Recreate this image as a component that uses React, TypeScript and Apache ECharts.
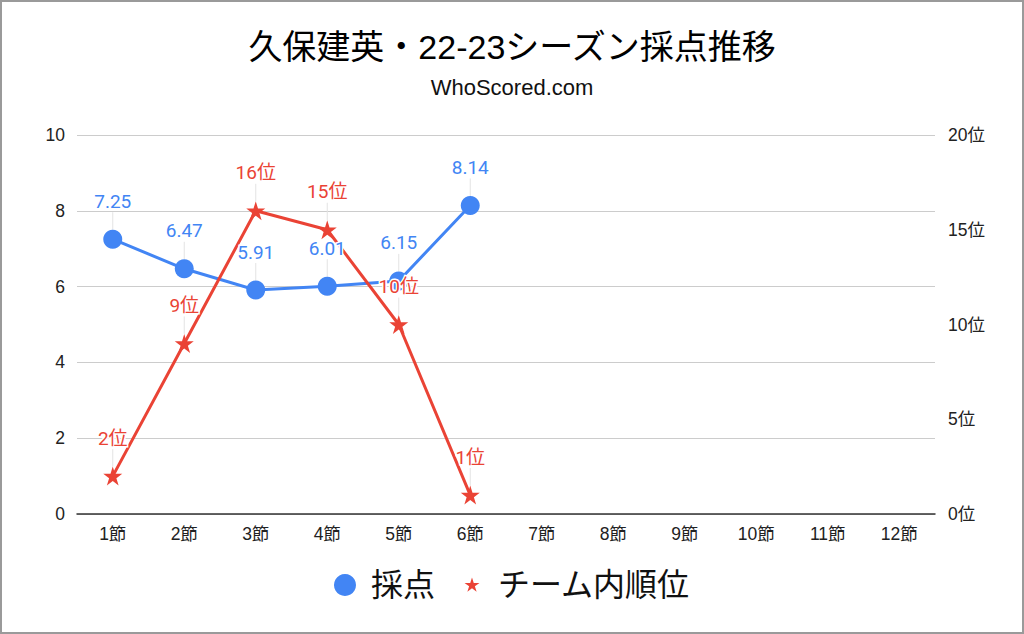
import React, { useEffect, useRef } from "react";
import * as echarts from "echarts";

const TITLE = "久保建英・22-23シーズン採点推移";
const SUBTITLE = "WhoScored.com";
const categories = ["1節", "2節", "3節", "4節", "5節", "6節", "7節", "8節", "9節", "10節", "11節", "12節"];
const scores = [7.25, 6.47, 5.91, 6.01, 6.15, 8.14];
const ranks = [2, 9, 16, 15, 10, 1];
const SCORE_NAME = "採点";
const RANK_NAME = "チーム内順位";

const BLUE = "#4285F4";
const RED = "#EA4335";
const FONT = "'Liberation Sans', 'Noto Sans CJK JP', sans-serif";
const LABEL_FONT = "Roboto, 'Noto Sans CJK JP', sans-serif";
const STAR_D = "M50 0L61.2 34.5L97.6 34.5L68.2 55.9L79.4 90.5L50 69.1L20.6 90.5L31.8 55.9L2.4 34.5L38.8 34.5Z";
const STAR = "path://" + STAR_D;
const LEGEND_STAR = "path://M-20 -22M120 118M" + STAR_D.slice(1);

export default function App() {
  const ref = useRef<HTMLDivElement>(null);
  useEffect(() => {
    document.body.style.margin = "0";
    const chart = echarts.init(ref.current!, undefined, { renderer: "svg" });
    chart.setOption({
      animation: false,
      backgroundColor: "#fff",
      textStyle: { fontFamily: FONT },
      title: {
        text: TITLE,
        subtext: SUBTITLE,
        left: "center",
        top: 23,
        itemGap: 13,
        textStyle: { fontSize: 34, fontWeight: "normal", color: "#000", fontFamily: FONT },
        subtextStyle: { fontSize: 22, color: "#111", fontFamily: FONT },
      },
      legend: {
        bottom: 26,
        left: "center",
        itemWidth: 22,
        itemHeight: 22,
        itemGap: 26,
        textStyle: { fontSize: 32, color: "#111", fontFamily: FONT, padding: [0, 0, 0, 10] },
        data: [
          { name: SCORE_NAME, icon: "circle" },
          { name: RANK_NAME, icon: LEGEND_STAR },
        ],
      },
      grid: { left: 75, right: 87, top: 133, bottom: 118, containLabel: false },
      xAxis: {
        type: "category",
        data: categories,
        boundaryGap: true,
        axisLine: { lineStyle: { color: "#333", width: 1.5 } },
        axisTick: { show: false },
        axisLabel: { fontSize: 17.5, color: "#222", margin: 11, fontFamily: FONT },
      },
      yAxis: [
        {
          type: "value",
          min: 0,
          max: 10,
          interval: 2,
          axisLine: { show: false },
          axisTick: { show: false },
          axisLabel: { fontSize: 17.5, color: "#222", margin: 12, fontFamily: FONT },
          splitLine: { lineStyle: { color: "#cccccc", width: 1 } },
        },
        {
          type: "value",
          min: 0,
          max: 20,
          interval: 5,
          position: "right",
          axisLine: { show: false },
          axisTick: { show: false },
          axisLabel: { fontSize: 17.5, color: "#222", margin: 13, formatter: "{value}位", fontFamily: FONT },
          splitLine: { show: false },
        },
      ],
      series: [
        {
          name: SCORE_NAME,
          type: "line",
          yAxisIndex: 0,
          data: scores,
          symbol: "circle",
          symbolSize: 19,
          itemStyle: { color: BLUE },
          lineStyle: { color: BLUE, width: 3 },
          label: {
            show: true,
            position: "top",
            distance: 5,
            fontSize: 19,
            color: BLUE,
            fontFamily: LABEL_FONT,
            textBorderColor: "#fff",
            textBorderWidth: 3,
          },
          labelLayout: { dy: -14 },
          labelLine: { show: true, lineStyle: { color: "#e3e3e3", width: 1 } },
        },
        {
          name: RANK_NAME,
          type: "line",
          yAxisIndex: 1,
          data: ranks,
          symbol: STAR,
          symbolSize: 19,
          itemStyle: { color: RED },
          lineStyle: { color: RED, width: 3 },
          label: {
            show: true,
            position: "top",
            distance: 5,
            fontSize: 19,
            color: RED,
            fontFamily: LABEL_FONT,
            formatter: "{c}位",
            textBorderColor: "#fff",
            textBorderWidth: 3,
          },
          labelLayout: { dy: -14 },
          labelLine: { show: true, lineStyle: { color: "#e3e3e3", width: 1 } },
        },
      ],
    });
    return () => chart.dispose();
  }, []);
  return (
    <div
      style={{
        position: "absolute",
        left: 0,
        top: 0,
        width: 1024,
        height: 634,
        boxSizing: "border-box",
        border: "2px solid #9a9a9a",
        background: "#fff",
      }}
    >
      <div ref={ref} style={{ width: 1020, height: 630 }} />
    </div>
  );
}
